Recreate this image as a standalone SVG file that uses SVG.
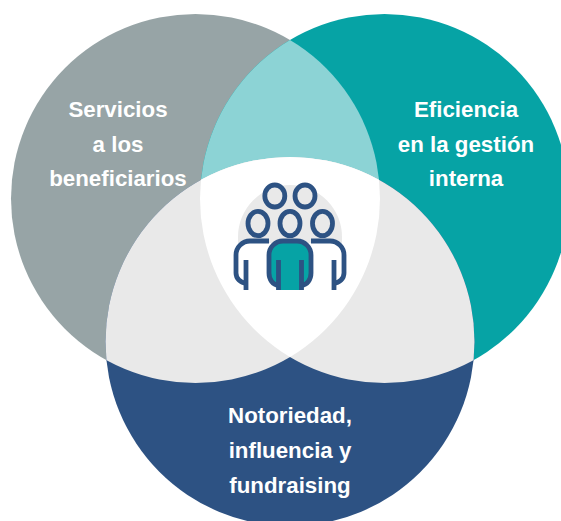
<svg xmlns="http://www.w3.org/2000/svg" width="561" height="521" viewBox="0 0 561 521">
<style>
text{font-family:"Liberation Sans",Arial,sans-serif;font-weight:700;font-size:22.3px;fill:#fff;text-anchor:middle}
.ic{fill:none;stroke:#2d5283;stroke-width:4.8;stroke-linecap:butt;stroke-linejoin:round}
</style>
<defs>
<clipPath id="cL"><circle cx="195.500" cy="198.500" r="184.500"/></clipPath>
<clipPath id="cR"><circle cx="384.500" cy="198.500" r="184.500"/></clipPath>
<clipPath id="cB"><circle cx="290" cy="341.500" r="184.500"/></clipPath>
</defs>
<rect width="561" height="521" fill="#fff"/>
<g id="node-servicios">
<circle cx="195.500" cy="198.500" r="184.500" fill="#97a4a6"/>
<text x="118" y="117">Servicios</text>
<text x="118" y="152">a los</text>
<text x="118" y="186">beneficiarios</text>
</g>
<g id="node-eficiencia">
<circle cx="384.500" cy="198.500" r="184.500" fill="#06a3a5"/>
<text x="466" y="117">Eficiencia</text>
<text x="466" y="152">en la gestión</text>
<text x="466" y="186">interna</text>
</g>
<g id="node-notoriedad">
<circle cx="290" cy="341.500" r="184.500" fill="#2d5283"/>
<text x="290" y="423">Notoriedad,</text>
<text x="290" y="458">influencia y</text>
<text x="290" y="493">fundraising</text>
</g>
<g id="overlaps">
<circle cx="384.500" cy="198.500" r="184.500" fill="#8cd3d5" clip-path="url(#cL)"/>
<circle cx="290" cy="341.500" r="184.500" fill="#e9e9e9" clip-path="url(#cL)"/>
<circle cx="290" cy="341.500" r="184.500" fill="#e9e9e9" clip-path="url(#cR)"/>
<g clip-path="url(#cL)"><circle cx="384.500" cy="198.500" r="184.500" fill="#fff" clip-path="url(#cB)"/></g>
</g>
<g id="node-people">
<path d="M238 243V237A52 52 0 0 1 342 237V243Z" fill="#e9e9e9"/>
<path d="M278 285A9 12 0 0 1 269 273V255A14 14 0 0 1 283 241H297A14 14 0 0 1 311 255V273A9 12 0 0 1 302 285V290H278Z" fill="#06a3a5"/>
<ellipse cx="274.800" cy="196" rx="10" ry="11" class="ic"/>
<ellipse cx="305" cy="196" rx="10" ry="11" class="ic"/>
<ellipse cx="258" cy="223.500" rx="10" ry="12.200" class="ic"/>
<ellipse cx="290" cy="223.500" rx="10" ry="12.200" class="ic"/>
<ellipse cx="322.500" cy="223.500" rx="10" ry="12.200" class="ic"/>
<path d="M269 241H250A14 14 0 0 0 236 255V273A10 10 0 0 0 246 283" class="ic"/>
<path d="M246 260V290" class="ic"/>
<path d="M311 241H330A14 14 0 0 1 344 255V273A10 10 0 0 1 334 283" class="ic"/>
<path d="M334 260V290" class="ic"/>
<path d="M278 285A9 12 0 0 1 269 273V255A14 14 0 0 1 283 241H297A14 14 0 0 1 311 255V273A9 12 0 0 1 302 285" class="ic"/>
<path d="M278.500 260V290M301.500 260V290" class="ic"/>
</g>
</svg>
